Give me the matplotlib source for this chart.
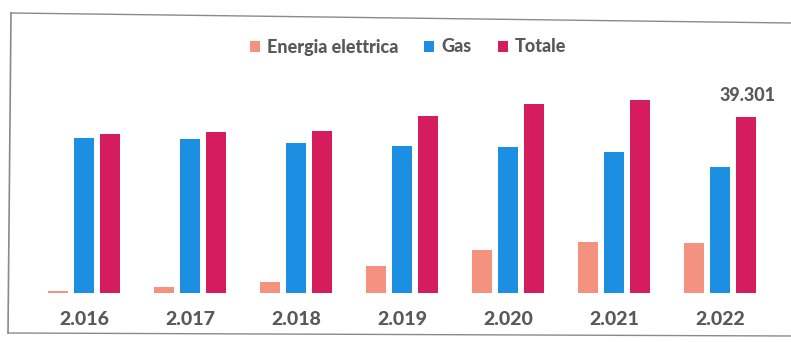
import matplotlib
matplotlib.use("Agg")
import matplotlib.pyplot as plt
from matplotlib.lines import Line2D
import numpy as np

years = ["2.016", "2.017", "2.018", "2.019", "2.020", "2.021", "2.022"]
energia = [400, 1300, 2500, 6000, 9600, 11400, 11200]
gas = [34600, 34400, 33500, 32800, 32600, 31500, 28100]
totale = [35500, 35900, 36200, 39500, 42200, 43100, 39301]
total_label = "39.301"

c_energia = "#F4917F"
c_gas = "#1C8FE3"
c_totale = "#D51C5C"
txt = "#595959"

plt.rcParams["font.family"] = ["Lato", "DejaVu Sans"]

W, H = 791, 342
fig = plt.figure(figsize=(W / 100, H / 100), dpi=100)
fig.patch.set_facecolor("white")

base_px = 293
top_px = 69
ax = fig.add_axes([0, (H - base_px) / H, 1, (base_px - top_px) / H])
ax.set_facecolor("none")

x = np.arange(len(years))
bw = 0.195
off = 0.245
ax.bar(x - off, energia, bw, color=c_energia, label="Energia elettrica")
ax.bar(x, gas, bw, color=c_gas, label="Gas")
ax.bar(x + off, totale, bw, color=c_totale, label="Totale")

ax.set_xlim(-84 / 106, (W - 84) / 106)
ax.set_ylim(0, 50000)
for s in ax.spines.values():
    s.set_visible(False)
ax.set_yticks([])
ax.set_xticks(x)
ax.set_xticklabels(years, fontsize=14, fontweight="black", color=txt)
ax.tick_params(axis="x", length=0, pad=13)

ax.annotate(total_label, (x[-1] + off, totale[-1]), xytext=(1, 9),
            textcoords="offset points", ha="center", va="bottom",
            fontsize=13, fontweight="black", color=txt)

leg = fig.legend(loc="center", bbox_to_anchor=(408 / W, 1 - 47 / H), ncol=3,
                 frameon=False, handlelength=0.55, handleheight=0.55,
                 columnspacing=1.45, handletextpad=0.4,
                 prop={"weight": "black", "size": 13})
for t in leg.get_texts():
    t.set_color(txt)

# outer frame
fc = "#8A8A8A"
fig.add_artist(Line2D([11 / W, 8 / W], [1 - 13 / H, 1 - 333 / H], color=fc, lw=1.2))
fig.add_artist(Line2D([11 / W, 1], [1 - 13 / H, 1 - 23 / H], color=fc, lw=1.0))
fig.add_artist(Line2D([8 / W, 1], [1 - 333 / H, 1 - 336 / H], color=fc, lw=1.0))

fig.savefig("out.png", dpi=100)
